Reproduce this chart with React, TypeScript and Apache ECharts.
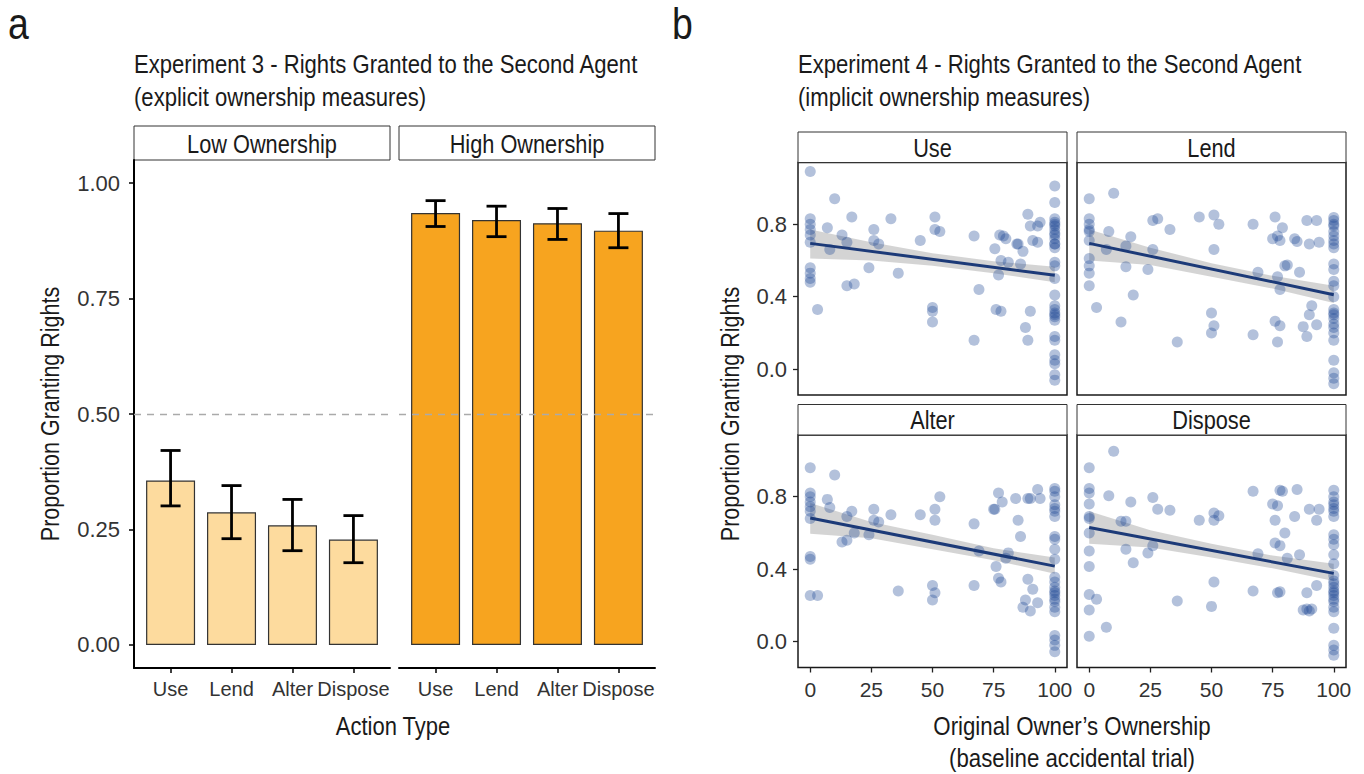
import React, { useEffect, useRef } from "react";
import * as echarts from "echarts";

const FONT = "'Liberation Sans Narrow', 'Liberation Sans', Arial, sans-serif";

// ---------- Panel a data ----------
const actions = ["Use", "Lend", "Alter", "Dispose"];
const actionPos = [1, 2, 3, 4];
const lowMeans = [0.356, 0.287, 0.259, 0.228];
const lowLower = [0.301, 0.23, 0.204, 0.178];
const lowUpper = [0.421, 0.345, 0.315, 0.28];
const highMeans = [0.935, 0.92, 0.913, 0.897];
const highLower = [0.906, 0.884, 0.878, 0.86];
const highUpper = [0.962, 0.95, 0.945, 0.934];
const barTicks = [0, 0.25, 0.5, 0.75, 1];

// ---------- Panel b data ----------
const ownershipTicks = [0, 25, 50, 75, 100];
const rightsTicks = [0, 0.4, 0.8];
const fitX = [0, 25, 50, 75, 100];

const usePoints: number[][] = [
  [0, 1.09], [10, 0.94], [0, 0.83], [0, 0.8], [0, 0.77], [0, 0.74], [0, 0.7], [7, 0.78], [8, 0.66], [13, 0.74],
  [15, 0.7], [17, 0.84], [0, 0.56], [0, 0.53], [0, 0.5], [0, 0.48], [3, 0.33], [15, 0.46], [18, 0.47], [24, 0.56],
  [26, 0.77], [26, 0.71], [28, 0.69], [33, 0.83], [36, 0.53], [45, 0.71], [51, 0.84], [51, 0.77], [53, 0.76],
  [50, 0.34], [50, 0.32], [50, 0.26], [67, 0.735], [67, 0.16], [69, 0.44], [75.5, 0.665], [77.5, 0.74], [79, 0.735],
  [80, 0.72], [76, 0.33], [78, 0.32], [77, 0.52], [78, 0.6], [81, 0.59], [84.5, 0.69], [85, 0.69], [87, 0.65],
  [86, 0.58], [89, 0.855], [90, 0.79], [94, 0.81], [93, 0.79], [91, 0.71], [93, 0.7], [90, 0.32], [88, 0.23], [89, 0.16],
  [100, 1.01], [100, 0.92], [100, 0.83], [100, 0.81], [100, 0.8], [100, 0.79], [100, 0.77], [100, 0.75], [100, 0.74],
  [100, 0.72], [100, 0.69], [100, 0.69], [100, 0.67], [100, 0.59], [100, 0.57], [100, 0.5], [100, 0.41], [100, 0.35],
  [100, 0.33], [100, 0.31], [100, 0.3], [100, 0.29], [100, 0.27], [100, 0.18], [100, 0.16], [100, 0.08], [100, 0.05],
  [100, 0.03], [100, -0.03], [100, -0.06],
];
const useFit = [0.694, 0.518];
const useBandLow = [0.61, 0.6, 0.57, 0.53, 0.48];
const useBandHigh = [0.77, 0.7, 0.64, 0.595, 0.565];

const lendPoints: number[][] = [
  [0, 0.94], [10, 0.97], [0, 0.83], [0, 0.8], [0, 0.77], [0, 0.76], [0, 0.71], [0, 0.61], [0, 0.57], [0, 0.53],
  [0, 0.46], [8, 0.76], [7, 0.66], [3, 0.34], [15, 0.68], [17, 0.73], [15, 0.565], [18, 0.41], [13, 0.26], [26, 0.82],
  [28, 0.83], [26, 0.66], [24, 0.55], [33, 0.77], [36, 0.15], [45, 0.84], [51, 0.85], [53, 0.8], [51, 0.66], [50, 0.31],
  [51, 0.24], [50, 0.2], [67, 0.8], [69, 0.535], [67, 0.19], [76, 0.84], [79, 0.78], [75, 0.72], [77, 0.735], [78, 0.71],
  [80, 0.57], [81, 0.575], [77, 0.51], [78, 0.44], [76, 0.265], [78, 0.24], [77, 0.15], [84, 0.72], [85, 0.705],
  [90, 0.69], [94, 0.7], [89, 0.82], [93, 0.82], [86, 0.535], [91, 0.35], [90, 0.3], [87.5, 0.235], [89, 0.18], [93, 0.245],
  [100, 0.837], [100, 0.82], [100, 0.8], [100, 0.79], [100, 0.76], [100, 0.735], [100, 0.71], [100, 0.69], [100, 0.67],
  [100, 0.58], [100, 0.55], [100, 0.485], [100, 0.46], [100, 0.4], [100, 0.33], [100, 0.31], [100, 0.3], [100, 0.28],
  [100, 0.25], [100, 0.23], [100, 0.2], [100, 0.16], [100, 0.05], [100, -0.02], [100, -0.05], [100, -0.08],
];
const lendFit = [0.694, 0.411];
const lendBandLow = [0.6, 0.575, 0.51, 0.445, 0.365];
const lendBandHigh = [0.77, 0.67, 0.585, 0.515, 0.46];

const alterPoints: number[][] = [
  [0, 0.96], [10, 0.92], [0, 0.82], [0, 0.8], [0, 0.77], [0, 0.745], [0, 0.72], [0, 0.68], [7, 0.785], [8, 0.74],
  [15, 0.69], [17, 0.72], [13, 0.55], [15, 0.56], [18, 0.6], [0, 0.47], [0, 0.455], [0, 0.255], [3, 0.255], [24, 0.59],
  [26, 0.73], [26, 0.67], [28, 0.66], [33, 0.7], [36, 0.28], [45, 0.7], [51, 0.73], [53, 0.8], [51, 0.67], [50, 0.31],
  [51, 0.27], [50, 0.23], [67, 0.65], [67, 0.31], [69, 0.5], [77, 0.82], [78.5, 0.77], [75.5, 0.73], [75, 0.73],
  [81, 0.49], [80, 0.46], [76, 0.415], [77, 0.35], [78, 0.33], [84, 0.79], [89, 0.79], [90, 0.79], [93, 0.84], [94, 0.79],
  [85, 0.67], [86, 0.58], [89, 0.345], [91, 0.29], [88, 0.23], [87, 0.19], [90, 0.17], [93, 0.215],
  [100, 0.845], [100, 0.83], [100, 0.8], [100, 0.755], [100, 0.735], [100, 0.72], [100, 0.69], [100, 0.58], [100, 0.565],
  [100, 0.51], [100, 0.455], [100, 0.355], [100, 0.33], [100, 0.3], [100, 0.28], [100, 0.27], [100, 0.255], [100, 0.235],
  [100, 0.22], [100, 0.19], [100, 0.165], [100, 0.035], [100, 0.01], [100, -0.02], [100, -0.055],
];
const alterFit = [0.682, 0.417];
const alterBandLow = [0.595, 0.57, 0.51, 0.45, 0.375];
const alterBandHigh = [0.765, 0.66, 0.59, 0.515, 0.465];

const disposePoints: number[][] = [
  [10, 1.05], [0, 0.96], [0, 0.845], [0, 0.82], [0, 0.76], [0, 0.69], [0, 0.68], [0, 0.6], [0, 0.5], [0, 0.415],
  [0, 0.26], [3, 0.235], [0, 0.175], [7, 0.08], [0, 0.03], [8, 0.805], [13, 0.665], [15, 0.665], [17, 0.77], [15, 0.51],
  [18, 0.435], [26, 0.795], [28, 0.73], [33, 0.725], [24, 0.49], [26, 0.53], [36, 0.225], [45, 0.67], [51, 0.71],
  [53, 0.695], [51, 0.67], [51, 0.33], [50, 0.195], [67, 0.83], [69, 0.485], [67, 0.28], [78, 0.835], [79, 0.83],
  [75, 0.76], [77, 0.75], [76, 0.67], [80, 0.6], [76, 0.545], [78, 0.53], [81, 0.46], [77, 0.27], [78, 0.275], [85, 0.84],
  [90, 0.73], [94, 0.73], [84, 0.69], [93, 0.67], [86, 0.48], [93, 0.31], [89, 0.27], [87.5, 0.175], [89, 0.18], [90, 0.17],
  [91, 0.18],
  [100, 0.835], [100, 0.8], [100, 0.77], [100, 0.755], [100, 0.735], [100, 0.72], [100, 0.69], [100, 0.59], [100, 0.565],
  [100, 0.535], [100, 0.48], [100, 0.43], [100, 0.365], [100, 0.335], [100, 0.32], [100, 0.3], [100, 0.28], [100, 0.27],
  [100, 0.255], [100, 0.235], [100, 0.22], [100, 0.19], [100, 0.165], [100, 0.075], [100, -0.02], [100, -0.045], [100, -0.075],
];
const disposeFit = [0.63, 0.377];
const disposeBandLow = [0.54, 0.52, 0.465, 0.405, 0.335];
const disposeBandHigh = [0.72, 0.615, 0.54, 0.475, 0.43];

const facets = [
  { name: "Use", points: usePoints, fit: useFit, lo: useBandLow, hi: useBandHigh },
  { name: "Lend", points: lendPoints, fit: lendFit, lo: lendBandLow, hi: lendBandHigh },
  { name: "Alter", points: alterPoints, fit: alterFit, lo: alterBandLow, hi: alterBandHigh },
  { name: "Dispose", points: disposePoints, fit: disposeFit, lo: disposeBandLow, hi: disposeBandHigh },
];

const LOW_COLOR = "#FDDB9E";
const HIGH_COLOR = "#F7A41F";
const TEXT = "#1a1a1a";
const TICK_TEXT = "#333333";

function buildOption() {
  const grids: any[] = [
    { left: 134, top: 160, width: 256, height: 508 },
    { left: 399, top: 160, width: 256, height: 508 },
  ];
  const facetBoxes = [
    { left: 798, top: 162.5 },
    { left: 1077, top: 162.5 },
    { left: 798, top: 435 },
    { left: 1077, top: 435 },
  ];
  facetBoxes.forEach((b) =>
    grids.push({
      left: b.left, top: b.top, width: 269, height: 232.5,
      show: true, borderColor: "#1a1a1a", borderWidth: 1.5, backgroundColor: "transparent",
    })
  );

  const xAxes: any[] = [];
  const yAxes: any[] = [];
  for (let g = 0; g < 2; g++) {
    xAxes.push({
      gridIndex: g, type: "value", min: 0.4, max: 4.6,
      axisLine: { show: true, onZero: false, lineStyle: { color: "#000", width: 2 } },
      axisTick: { show: true, customValues: actionPos, length: 5, lineStyle: { color: "#000", width: 1.5 } },
      axisLabel: {
        show: true, customValues: actionPos, margin: 11, fontSize: 20, color: TICK_TEXT, fontFamily: FONT,
        hideOverlap: false, showMinLabel: true, showMaxLabel: true,
        formatter: (v: number) => actions[Math.round(v) - 1] || "",
      },
      splitLine: { show: false },
    });
    yAxes.push({
      gridIndex: g, type: "value", min: -0.05, max: 1.05, show: g === 0,
      axisLine: { show: true, onZero: false, lineStyle: { color: "#000", width: 2 } },
      axisTick: { show: true, customValues: barTicks, length: 5, lineStyle: { color: "#000", width: 1.5 } },
      axisLabel: {
        show: true, customValues: barTicks, margin: 14, fontSize: 22, color: TICK_TEXT, fontFamily: FONT,
        showMinLabel: true, showMaxLabel: true,
        formatter: (v: number) => v.toFixed(2),
      },
      splitLine: { show: false },
    });
  }
  for (let i = 0; i < 4; i++) {
    const g = i + 2;
    const bottom = i >= 2;
    const left = i % 2 === 0;
    xAxes.push({
      gridIndex: g, type: "value", min: -5, max: 105,
      axisLine: { show: false, onZero: false },
      axisTick: { show: bottom, customValues: ownershipTicks, length: 5, lineStyle: { color: "#222", width: 1.3 } },
      axisLabel: {
        show: bottom, customValues: ownershipTicks, margin: 11, fontSize: 21, color: TICK_TEXT, fontFamily: FONT,
        hideOverlap: false, showMinLabel: true, showMaxLabel: true,
      },
      splitLine: { show: false },
    });
    yAxes.push({
      gridIndex: g, type: "value", min: -0.142, max: 1.14,
      axisLine: { show: false, onZero: false },
      axisTick: { show: left, customValues: rightsTicks, length: 5, lineStyle: { color: "#222", width: 1.3 } },
      axisLabel: {
        show: left, customValues: rightsTicks, margin: 11, fontSize: 22, color: TICK_TEXT, fontFamily: FONT,
        showMinLabel: true, showMaxLabel: true,
        formatter: (v: number) => v.toFixed(1),
      },
      splitLine: { show: false },
    });
  }

  const errorRender = (params: any, api: any) => {
    const x = api.value(0);
    const a = api.coord([x, api.value(2)]);
    const b = api.coord([x, api.value(1)]);
    const hw = 10;
    const style = { stroke: "#000", lineWidth: 2.8, fill: "none" };
    return {
      type: "group",
      children: [
        { type: "line", shape: { x1: a[0], y1: a[1], x2: b[0], y2: b[1] }, style },
        { type: "line", shape: { x1: a[0] - hw, y1: a[1], x2: a[0] + hw, y2: a[1] }, style },
        { type: "line", shape: { x1: b[0] - hw, y1: b[1], x2: b[0] + hw, y2: b[1] }, style },
      ],
    };
  };

  const series: any[] = [];
  const barSets = [
    { means: lowMeans, lo: lowLower, hi: lowUpper, color: LOW_COLOR },
    { means: highMeans, lo: highLower, hi: highUpper, color: HIGH_COLOR },
  ];
  barSets.forEach((s, g) => {
    series.push({
      type: "bar", xAxisIndex: g, yAxisIndex: g, barWidth: 49, z: 2,
      data: actionPos.map((x, i) => [x, s.means[i]]),
      itemStyle: { color: s.color, borderColor: "#333", borderWidth: 1.2 },
      markLine: {
        silent: true, symbol: ["none", "none"], label: { show: false },
        lineStyle: { type: [7, 6], color: "#aaaaaa", width: 1.3 },
        data: [{ yAxis: 0.5 }],
      },
    });
    series.push({
      type: "custom", xAxisIndex: g, yAxisIndex: g, z: 3, silent: true,
      data: actionPos.map((x, i) => [x, s.lo[i], s.hi[i]]),
      renderItem: errorRender,
    });
  });

  facets.forEach((f, i) => {
    const g = i + 2;
    series.push({
      type: "custom", xAxisIndex: g, yAxisIndex: g, z: 1, silent: true,
      data: fitX.map((x, k) => [x, f.lo[k], f.hi[k]]),
      renderItem: (params: any, api: any) => {
        if (params.dataIndex !== 0) return null;
        const top = fitX.map((x, k) => api.coord([x, f.hi[k]]));
        const bot = fitX.map((x, k) => api.coord([x, f.lo[k]])).reverse();
        return {
          type: "polygon",
          shape: { points: [...top, ...bot] },
          style: { fill: "rgba(153,153,153,0.42)" },
        };
      },
    });
    series.push({
      type: "scatter", xAxisIndex: g, yAxisIndex: g, z: 3, symbolSize: 11,
      data: f.points,
      itemStyle: { color: "rgba(30,72,148,0.42)" },
    });
    series.push({
      type: "line", xAxisIndex: g, yAxisIndex: g, z: 4, showSymbol: false, symbol: "none",
      data: [[0, f.fit[0]], [100, f.fit[1]]],
      lineStyle: { color: "#1c3a78", width: 3 },
    });
  });

  // text helper: condensed look via horizontal scaling
  const txt = (x: number, y: number, text: string, size: number, sx: number, align = "left", rot = 0) => ({
    type: "text", x, y, scaleX: sx, rotation: rot,
    style: {
      text, fontSize: size, fontFamily: FONT, fill: TEXT,
      align, verticalAlign: "middle", textAlign: align, textVerticalAlign: "middle",
    },
  });
  const strip = (x: number, y: number, w: number, h: number, label: string) => [
    { type: "rect", shape: { x, y, width: w, height: h }, style: { fill: "#fff", stroke: "#333", lineWidth: 1 } },
    txt(x + w / 2, y + h / 2 + 1, label, 25, 0.87, "center"),
  ];

  const graphic: any[] = [
    txt(8, 24, "a", 44, 0.85),
    txt(672, 24, "b", 44, 0.85),
    txt(134, 64, "Experiment 3 - Rights Granted to the Second Agent", 26, 0.85),
    txt(134, 97, "(explicit ownership measures)", 26, 0.85),
    txt(798, 64, "Experiment 4 - Rights Granted to the Second Agent", 26, 0.85),
    txt(798, 97, "(implicit ownership measures)", 26, 0.85),
    ...strip(134, 126, 256, 34, "Low Ownership"),
    ...strip(399, 126, 256, 34, "High Ownership"),
    ...strip(798, 132, 269, 30.5, "Use"),
    ...strip(1077, 132, 269, 30.5, "Lend"),
    ...strip(798, 404.5, 269, 30.5, "Alter"),
    ...strip(1077, 404.5, 269, 30.5, "Dispose"),
    txt(50, 414, "Proportion Granting Rights", 25, 0.86, "center", Math.PI / 2),
    txt(730, 414, "Proportion Granting Rights", 25, 0.86, "center", Math.PI / 2),
    txt(393, 727, "Action Type", 25, 0.88, "center"),
    txt(1072, 727, "Original Owner\u2019s Ownership", 25, 0.89, "center"),
    txt(1072, 759, "(baseline accidental trial)", 25, 0.89, "center"),
  ];

  return {
    animation: false,
    backgroundColor: "#ffffff",
    textStyle: { fontFamily: FONT },
    grid: grids,
    xAxis: xAxes,
    yAxis: yAxes,
    series,
    graphic,
  };
}

export default function App() {
  const ref = useRef<HTMLDivElement>(null);
  useEffect(() => {
    if (!ref.current) return;
    const chart = echarts.init(ref.current, undefined, { renderer: "svg" });
    chart.setOption(buildOption() as any);
    return () => chart.dispose();
  }, []);
  return (
    <div
      ref={ref}
      style={{ position: "absolute", left: 0, top: 0, width: 1364, height: 774, background: "#fff" }}
    />
  );
}
